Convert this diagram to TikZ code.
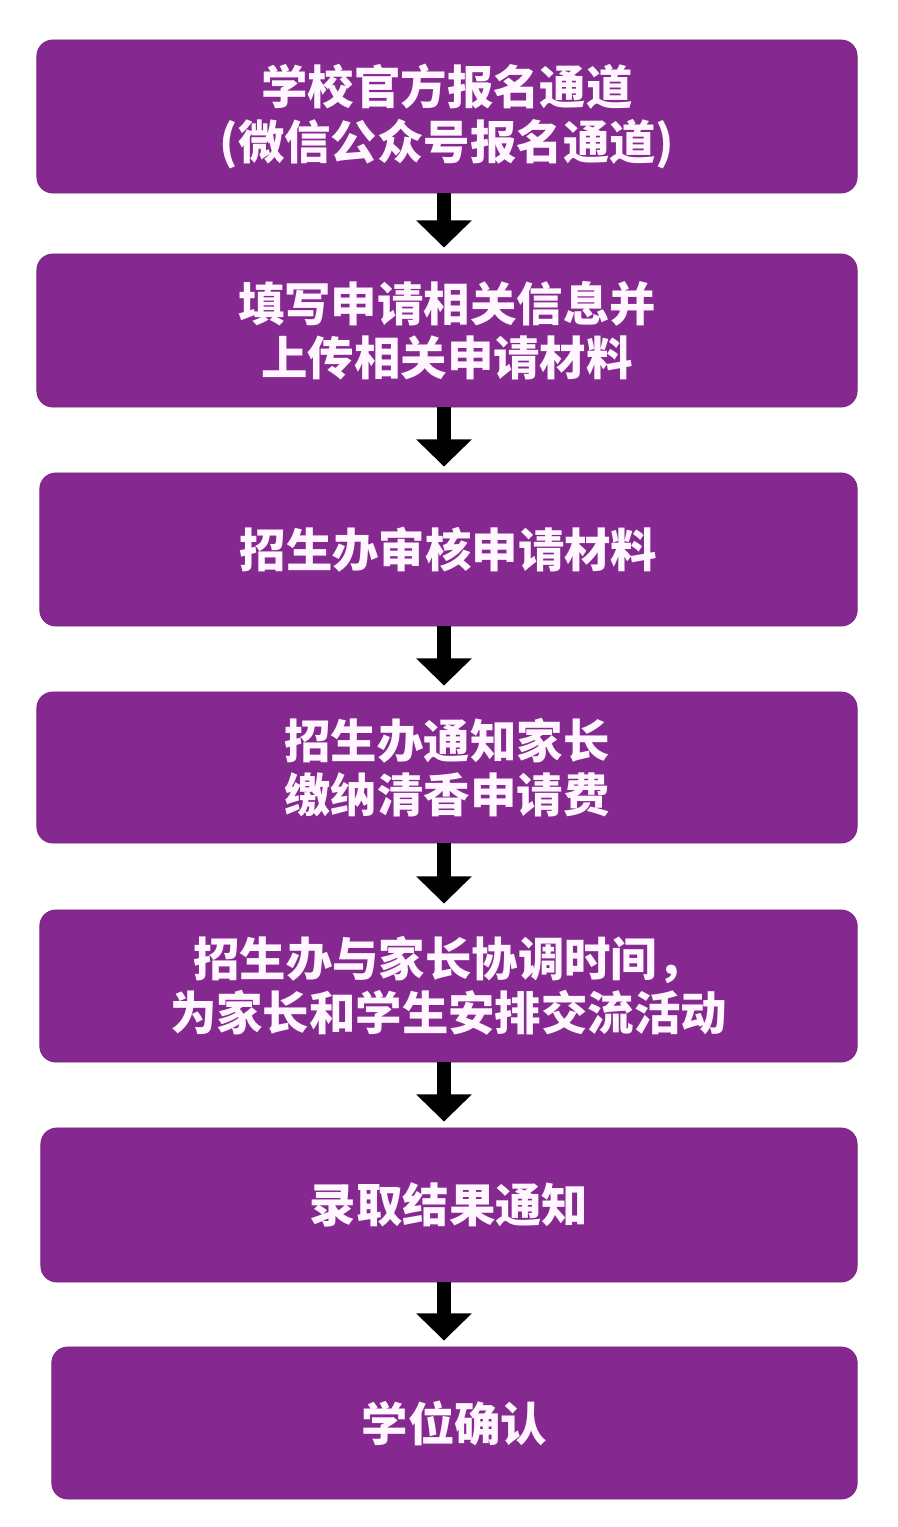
\documentclass[tikz,border=0pt]{standalone}
\usepackage{fontspec}
\newfontfamily\cjk{Noto Sans CJK SC}
\usepackage{xcolor}
\usepackage{tikz}
\usetikzlibrary{arrows.meta,positioning,calc}
\definecolor{purp}{RGB}{133,40,144}
\definecolor{purpedge}{RGB}{122,38,134}
\definecolor{txtw}{RGB}{255,246,255}
\tikzset{
  pbox/.style={draw=purpedge,line width=0.6pt,fill=purp,rounded corners=0.4cm,
              align=center,text=txtw,inner sep=0pt,
              font=\cjk\bfseries\fontsize{33}{38.5}\selectfont},
  arr/.style={-{Triangle[width=1.35cm,length=0.68cm]},line width=0.35cm,black}
}

\begin{document}
\begin{tikzpicture}[x=0.025cm,y=-0.025cm]
  \useasboundingbox[fill=white] (0,0) rectangle (898,1527);
  % ---- process steps ----
  \node[pbox,minimum width=20.5cm,minimum height=3.825cm] (apply) at (447,116.5)
    {学校官方报名通道\\(微信公众号报名通道)};
  \node[pbox,minimum width=20.5cm,minimum height=3.825cm] (info) at (447,330.5)
    {填写申请相关信息并\\上传相关申请材料};
  \node[pbox,minimum width=20.43cm,minimum height=3.825cm] (review) at (448.5,549.5)
    {招生办审核申请材料};
  \node[pbox,minimum width=20.5cm,minimum height=3.775cm] (fee) at (447,767.5)
    {招生办通知家长\\缴纳清香申请费};
  \node[pbox,minimum width=20.43cm,minimum height=3.8cm] (visit) at (448.5,986)
    {招生办与家长协调时间，\\为家长和学生安排交流活动};
  \node[pbox,minimum width=20.4cm,minimum height=3.85cm] (result) at (449,1205)
    {录取结果通知};
  \node[pbox,minimum width=20.13cm,minimum height=3.8cm] (confirm) at (454.5,1423)
    {学位确认};
  % ---- arrows between steps ----
  \coordinate (axis) at (444,0);
  \foreach \a/\b in {apply/info,info/review,review/fee,fee/visit,visit/result,result/confirm}
    \draw[arr] (\a.south -| axis) -- ($(\b.north -| axis)+(0,-6)$);
\end{tikzpicture}
\end{document}
